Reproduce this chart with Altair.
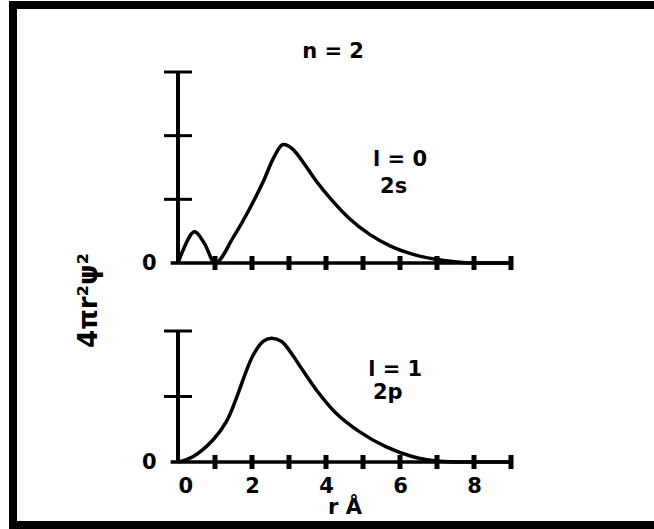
import altair as alt
import pandas as pd

# 2s radial distribution (top panel)
r_2s = [0.0, 0.15, 0.45, 0.72, 1.0, 1.5, 1.96, 2.32, 2.59, 2.85, 3.1, 3.42, 3.72, 4.17, 4.63, 5.18, 5.73, 6.45, 7.18, 7.9, 9.0]
p_2s = [0.0, 0.22, 0.49, 0.3, 0.0, 0.41, 0.88, 1.3, 1.66, 1.86, 1.79, 1.55, 1.3, 0.98, 0.7, 0.45, 0.27, 0.12, 0.04, 0.0, 0.0]

# 2p radial distribution (bottom panel)
r_2p = [0.0, 0.4, 0.95, 1.31, 1.58, 1.8, 2.03, 2.3, 2.52, 2.8, 3.1, 3.3, 3.74, 4.28, 4.91, 5.63, 6.35, 7.07, 8.0, 9.0]
p_2p = [0.0, 0.08, 0.34, 0.62, 0.98, 1.32, 1.63, 1.84, 1.89, 1.84, 1.63, 1.46, 1.1, 0.74, 0.46, 0.23, 0.08, 0.01, 0.0, 0.0]

x_ticks = [1, 2, 3, 4, 5, 6, 7, 8, 9]
x_tick_labels = [0, 2, 4, 6, 8]
top_y_ticks = [1, 2, 3]
bot_y_ticks = [1, 2]

top_text = ["n = 2", "l = 0", "2s"]
top_text_r = [4.19, 5.27, 5.46]
top_text_p = [3.31, 1.62, 1.19]
top_text_align = ["center", "left", "left"]

bot_text = ["l = 1", "2p"]
bot_text_r = [5.14, 5.27]
bot_text_p = [1.4, 1.05]

FONT = "DejaVu Sans"
W = 333
H_TOP = 191
H_BOT = 131


def panel(r, p, ymax, yticks, txt, txt_r, txt_p, txt_align, bottom, interp):
    xs = alt.Scale(domain=[0, 9], nice=False, zero=False)
    ys = alt.Scale(domain=[0, ymax], nice=False)
    if bottom:
        xaxis = alt.Axis(values=x_tick_labels, domain=False, ticks=False, grid=False,
                         labelPadding=13, labelFontSize=21, labelFontWeight="bold",
                         labelFont=FONT, labelColor="black", title="r Å",
                         titleFontSize=21, titleFont=FONT, titleFontWeight="bold",
                         titleColor="black", titlePadding=0)
        yaxis = alt.Axis(values=[0], domain=False, ticks=False, grid=False,
                         labelPadding=22, labelFontSize=21, labelFontWeight="bold",
                         labelFont=FONT, labelColor="black", title="4πr²ψ²",
                         titleFontSize=26, titleFont=FONT, titleFontWeight="bold",
                         titleColor="black", titleAngle=270, titleX=-90, titleY=-31,
                         titleAlign="center", titleBaseline="middle")
    else:
        xaxis = None
        yaxis = alt.Axis(values=[0], domain=False, ticks=False, grid=False,
                         labelPadding=22, labelFontSize=21, labelFontWeight="bold",
                         labelFont=FONT, labelColor="black", title=None)

    def X(f):
        return alt.X(f, type="quantitative", scale=xs, axis=xaxis)

    def Y(f):
        return alt.Y(f, type="quantitative", scale=ys, axis=yaxis)

    curve = alt.Chart(pd.DataFrame({"r": r, "p": p})).mark_line(
        color="black", strokeWidth=3.5, interpolate=interp
    ).encode(x=X("r"), y=Y("p"))

    yline = alt.Chart(pd.DataFrame({"r": [0], "p": [0], "p2": [ymax]})).mark_rule(
        color="black", strokeWidth=4
    ).encode(x=X("r"), y=Y("p"), y2="p2:Q")

    xline = alt.Chart(pd.DataFrame({"r": [-0.2], "r2": [9], "p": [0]})).mark_rule(
        color="black", strokeWidth=3.5
    ).encode(x=X("r"), x2="r2:Q", y=Y("p"))

    ytk = alt.Chart(pd.DataFrame({"r": [0] * len(yticks), "p": yticks})).mark_tick(
        color="black", orient="horizontal", size=28, thickness=3, opacity=1
    ).encode(x=X("r"), y=Y("p"))

    xtk = alt.Chart(pd.DataFrame({"r": x_ticks, "p": [0] * len(x_ticks)})).mark_tick(
        color="black", orient="vertical", size=14, thickness=5, opacity=1
    ).encode(x=X("r"), y=Y("p"))

    layers = [curve, yline, xline, ytk, xtk]
    tdf = pd.DataFrame({"r": txt_r, "p": txt_p, "label": txt, "align": txt_align})
    for a in sorted(set(txt_align)):
        layers.append(
            alt.Chart(tdf[tdf["align"] == a]).mark_text(
                align=a, baseline="middle", fontSize=21, fontWeight="bold",
                font=FONT, color="black"
            ).encode(x=X("r"), y=Y("p"), text="label:N")
        )
    return layers


top_layers = panel(r_2s, p_2s, 3, top_y_ticks, top_text, top_text_r, top_text_p,
                   top_text_align, False, "monotone")

# scanned-page frame (left, top and bottom edges), drawn as filled bars
frame_df = pd.DataFrame({"k": [0]})
frame_left = alt.Chart(frame_df).mark_rect(color="black", strokeWidth=0).encode(
    x=alt.value(-169), x2=alt.value(-161), y=alt.value(-71), y2=alt.value(457))
frame_top = alt.Chart(frame_df).mark_rect(color="black", strokeWidth=0).encode(
    x=alt.value(-169), x2=alt.value(476), y=alt.value(-71), y2=alt.value(-63))
frame_bot = alt.Chart(frame_df).mark_rect(color="black", strokeWidth=0).encode(
    x=alt.value(-169), x2=alt.value(476), y=alt.value(449), y2=alt.value(457))

top = alt.layer(*top_layers, frame_left, frame_top, frame_bot).properties(width=W, height=H_TOP)

bot_layers = panel(r_2p, p_2p, 2, bot_y_ticks, bot_text, bot_text_r, bot_text_p,
                   ["left", "left"], True, "catmull-rom")
bot = alt.layer(*bot_layers).properties(width=W, height=H_BOT)

chart = alt.vconcat(top, bot, spacing=68, bounds="flush").properties(
    padding={"left": 9, "top": 1, "right": 0, "bottom": 0},
    background="white",
).configure_view(stroke=None)

chart.save("out.html", embed_options={"renderer": "svg", "actions": False})
